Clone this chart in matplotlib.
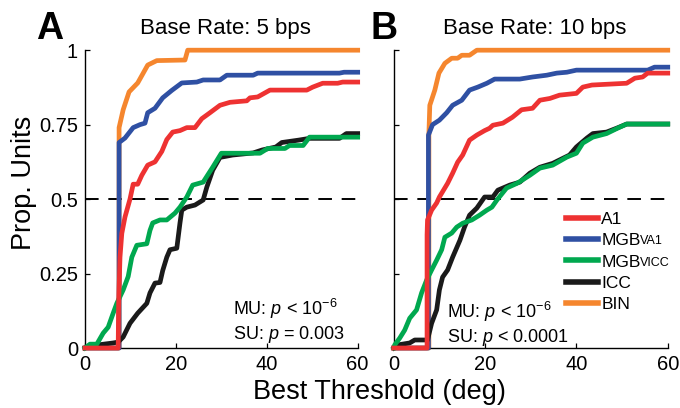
import numpy as np
import matplotlib as mpl
mpl.use('Agg')
import matplotlib.pyplot as plt

plt.rcParams['font.family'] = ['Liberation Sans', 'DejaVu Sans']
plt.rcParams['mathtext.fontset'] = 'custom'
plt.rcParams['mathtext.rm'] = 'Liberation Sans'
plt.rcParams['mathtext.it'] = 'Liberation Sans:italic'

# cumulative proportion of units vs best threshold (deg), base rate 5 bps
a1_5_x = [0, 7.3, 7.4, 7.7, 8.1, 8.8, 9.9, 10.6, 11.6, 12.5, 13.8, 15.4, 16.9, 18.0, 19.3, 20.9, 22.4,
          24.2, 25.7, 27.5, 29.7, 31.9, 35.6, 36.3, 38.0, 40.7, 48.8, 50.1, 52.3, 55.6, 56.7, 60]
a1_5_y = [0, 0, 0.15, 0.305, 0.385, 0.44, 0.50, 0.55, 0.55, 0.58, 0.614, 0.625, 0.66, 0.70, 0.725, 0.73, 0.74,
          0.74, 0.77, 0.79, 0.815, 0.825, 0.83, 0.84, 0.843, 0.866, 0.866, 0.876, 0.889, 0.889, 0.893, 0.893]
va1_5_x = [0, 7.5, 7.5, 8.8, 10.6, 12.1, 13.2, 13.8, 15.4, 17.1, 19.1, 21.3, 24.6, 26.0, 29.7, 31.2,
           37.0, 38.0, 56.0, 57.0, 60]
va1_5_y = [0, 0, 0.69, 0.705, 0.74, 0.75, 0.755, 0.79, 0.805, 0.84, 0.865, 0.89, 0.893, 0.90, 0.90, 0.916,
           0.916, 0.923, 0.923, 0.926, 0.926]
vicc_5_x = [0, 1.1, 2.6, 4.0, 5.1, 6.2, 7.0, 8.4, 9.5, 10.3, 11.4, 13.6, 14.3, 14.9, 16.5, 18.0, 19.8,
            20.9, 22.4, 23.7, 26.0, 28.1, 30.0, 38.5, 40.2, 44.0, 45.0, 48.0, 49.4, 60]
vicc_5_y = [0, 0.013, 0.013, 0.05, 0.07, 0.117, 0.15, 0.195, 0.24, 0.305, 0.345, 0.35, 0.395, 0.42, 0.43, 0.43, 0.453,
            0.473, 0.507, 0.547, 0.557, 0.607, 0.654, 0.654, 0.67, 0.67, 0.68, 0.68, 0.708, 0.708]
icc_5_x = [0, 2.6, 6.2, 7.3, 8.4, 9.9, 11.6, 13.6, 14.3, 15.4, 16.5, 17.1, 18.0, 18.7, 20.2, 20.9, 21.3,
           22.4, 24.2, 26.0, 26.8, 28.1, 29.7, 32.5, 37.0, 39.0, 42.0, 43.3, 47.0, 49.4, 56.0, 57.5, 60]
icc_5_y = [0, 0.01, 0.017, 0.02, 0.037, 0.083, 0.117, 0.15, 0.185, 0.218, 0.22, 0.26, 0.305, 0.33, 0.335, 0.42, 0.463,
           0.473, 0.48, 0.497, 0.54, 0.597, 0.64, 0.648, 0.655, 0.665, 0.675, 0.69, 0.698, 0.704, 0.704, 0.72, 0.72]
bin_5_x = [0, 7.5, 7.5, 8.4, 9.7, 11.6, 13.8, 15.8, 22.0, 22.6, 60]
bin_5_y = [0, 0, 0.74, 0.80, 0.86, 0.89, 0.95, 0.965, 0.967, 1.0, 1.0]

# same, base rate 10 bps
a1_10_x = [0, 7.3, 7.3, 7.4, 8.3, 9.4, 10.0, 11.8, 12.9, 14.0, 15.1, 16.6, 18.2, 19.9, 21.0, 21.7, 23.9,
           26.0, 28.0, 30.4, 32.0, 34.2, 36.3, 40.0, 41.4, 43.4, 51.0, 52.8, 54.5, 55.6, 60]
a1_10_y = [0, 0, 0.38, 0.43, 0.463, 0.487, 0.507, 0.553, 0.587, 0.624, 0.648, 0.698, 0.715, 0.73, 0.738, 0.748, 0.755,
           0.775, 0.80, 0.805, 0.832, 0.838, 0.849, 0.855, 0.876, 0.883, 0.889, 0.906, 0.91, 0.923, 0.923]
va1_10_x = [0, 7.6, 7.6, 8.5, 10.0, 11.6, 12.9, 14.9, 16.6, 18.4, 20.4, 22.1, 27.6, 30.4, 33.5, 35.7,
            37.9, 40.0, 55.6, 57.1, 60]
va1_10_y = [0, 0, 0.715, 0.75, 0.765, 0.79, 0.815, 0.832, 0.866, 0.876, 0.889, 0.903, 0.903, 0.91, 0.916, 0.923,
            0.926, 0.933, 0.933, 0.943, 0.943]
vicc_10_x = [0, 0.2, 1.3, 2.4, 3.5, 5.0, 6.1, 7.2, 8.3, 9.4, 10.5, 11.2, 12.7, 13.8, 15.1, 17.1, 18.8,
             20.4, 21.5, 22.6, 24.7, 27.0, 29.8, 32.0, 34.8, 37.9, 40.0, 41.4, 43.6, 46.6, 49.0, 51.0, 60]
vicc_10_y = [0, 0.01, 0.033, 0.06, 0.10, 0.128, 0.185, 0.228, 0.262, 0.295, 0.33, 0.372, 0.386, 0.406, 0.419, 0.43, 0.446,
             0.463, 0.473, 0.497, 0.537, 0.553, 0.58, 0.604, 0.614, 0.641, 0.654, 0.688, 0.708, 0.72, 0.738, 0.752, 0.752]
icc_10_x = [0, 0.7, 3.5, 4.6, 7.4, 8.3, 9.4, 10.0, 10.7, 11.8, 12.9, 14.5, 15.5, 16.6, 18.2, 19.9, 21.7,
            22.8, 25.4, 27.6, 29.8, 32.0, 34.8, 38.5, 40.0, 42.3, 43.6, 46.6, 48.8, 51.0, 60]
icc_10_y = [0, 0.01, 0.017, 0.027, 0.027, 0.083, 0.128, 0.195, 0.238, 0.262, 0.305, 0.362, 0.406, 0.446, 0.47, 0.507, 0.507,
            0.53, 0.547, 0.557, 0.587, 0.607, 0.62, 0.648, 0.675, 0.705, 0.72, 0.725, 0.738, 0.752, 0.752]
bin_10_x = [0, 7.7, 7.7, 7.9, 9.0, 9.9, 11.2, 12.7, 14.0, 14.9, 16.6, 18.2, 60]
bin_10_y = [0, 0, 0.72, 0.815, 0.866, 0.923, 0.956, 0.973, 0.973, 0.983, 0.983, 1.0, 1.0]

titles = ['Base Rate: 5 bps', 'Base Rate: 10 bps']
panel_letters = ['A', 'B']
stats = [r'MU: $p$ < 10$^{-6}$' + '\n' + r'SU: $p$ = 0.003',
         r'MU: $p$ < 10$^{-6}$' + '\n' + r'SU: $p$ < 0.0001']
x_ticks = [0, 20, 40, 60]
y_ticks = [0, 0.25, 0.5, 0.75, 1]
y_ticklabels = ['0', '0.25', '0.5', '0.75', '1']

RED = '#ee3232'
BLUE = '#2f50a3'
GREEN = '#00a84f'
BLACK = '#1a1a1a'
ORANGE = '#f5862e'


def draw_panel(ax, curves):
	a1, va1, vicc, icc, bn = curves
	ax.axhline(0.5, color='black', lw=1.4, dashes=(7, 5), zorder=1)
	# draw order: orange under blue, black under green, red on top
	ax.plot(bn[0], bn[1], color=ORANGE, lw=3.4, clip_on=False, zorder=2, label='BIN')
	ax.plot(va1[0], va1[1], color=BLUE, lw=3.4, clip_on=False, zorder=3, label='MGB')
	ax.plot(icc[0], icc[1], color=BLACK, lw=3.4, clip_on=False, zorder=4, label='ICC')
	ax.plot(vicc[0], vicc[1], color=GREEN, lw=3.4, clip_on=False, zorder=5, label='MGB')
	ax.plot(a1[0], a1[1], color=RED, lw=3.4, clip_on=False, zorder=6, label='A1')

	ax.set_xlim(0, 60)
	ax.set_ylim(0, 1)
	ax.set_xticks(x_ticks)
	ax.set_yticks(y_ticks)
	for side in ['top', 'right']:
		ax.spines[side].set_visible(False)
	for side in ['left', 'bottom']:
		ax.spines[side].set_linewidth(1.0)
	ax.tick_params(direction='in', length=3.5, width=0.9, labelsize=14.5, pad=5)


def main():
	fig = plt.figure(figsize=(6.8, 4.08), dpi=100)
	ax_a = fig.add_axes([0.125, 0.147, 0.401, 0.730])
	ax_b = fig.add_axes([0.579, 0.147, 0.403, 0.730])

	draw_panel(ax_a, [(a1_5_x, a1_5_y), (va1_5_x, va1_5_y), (vicc_5_x, vicc_5_y),
	                  (icc_5_x, icc_5_y), (bin_5_x, bin_5_y)])
	draw_panel(ax_b, [(a1_10_x, a1_10_y), (va1_10_x, va1_10_y), (vicc_10_x, vicc_10_y),
	                  (icc_10_x, icc_10_y), (bin_10_x, bin_10_y)])

	ax_a.set_yticklabels(y_ticklabels)
	ax_b.set_yticklabels([])

	for ax, title, stat in zip([ax_a, ax_b], titles, stats):
		ax.text(0.515, 1.074, title, transform=ax.transAxes, ha='center', va='center', fontsize=16)
		ax.text(0.0, 0.0, stat, transform=ax.transAxes, fontsize=13, linespacing=1.2)
	ax_a.texts[-1].set_position((0.542, 0.03))
	ax_b.texts[-1].set_position((0.193, 0.02))

	fig.text(50 / 680, 1 - 29 / 408, panel_letters[0], fontsize=27, fontweight='bold', ha='center', va='center')
	fig.text(384 / 680, 1 - 29 / 408, panel_letters[1], fontsize=27, fontweight='bold', ha='center', va='center')

	fig.text(379 / 680, 1 - 392 / 408, 'Best Threshold (deg)', fontsize=19.5, ha='center', va='center')
	fig.text(24 / 680, 1 - 183 / 408, 'Prop. Units', fontsize=19.5, ha='center', va='center', rotation=90)

	# legend in panel B, ordered A1, MGBva1, MGBvicc, ICC, BIN
	h = {l.get_color(): l for l in ax_b.get_lines()}
	handles = [h[RED], h[BLUE], h[GREEN], h[BLACK], h[ORANGE]]
	labels = ['A1', 'MGB', 'MGB', 'ICC', 'BIN']
	leg = ax_b.legend(handles, labels, loc='upper left', bbox_to_anchor=(0.628, 0.458),
	                  frameon=False, fontsize=12.5, handlelength=1.85, handletextpad=0.2,
	                  labelspacing=0.36, borderpad=0, borderaxespad=0)
	for line in leg.get_lines():
		line.set_linewidth(4)
	# small-caps style suffixes after the MGB labels, drawn after the legend is placed
	texts = leg.get_texts()
	for txt, sub in [(texts[1], 'VA1'), (texts[2], 'VICC')]:
		ax_b.annotate(sub, xy=(1, 0), xycoords=txt, xytext=(-0.5, 0.6), textcoords='offset points',
		              fontsize=9, ha='left', va='bottom', annotation_clip=False, zorder=10)

	fig.savefig('out.png', dpi=100)


if __name__ == '__main__':
	main()
